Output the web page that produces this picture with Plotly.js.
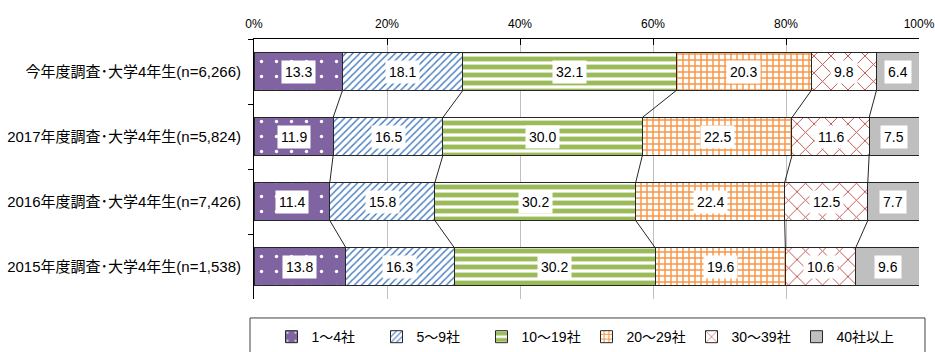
<!DOCTYPE html>
<html><head><meta charset="utf-8">
<script src="https://cdn.plot.ly/plotly-3.0.1.min.js"></script>
<style>html,body{margin:0;padding:0;background:#fff}#chart{width:935px;height:352px}</style>
</head><body><div id="chart"></div>
<script>
const categories = ['今年度調査･大学4年生(n=6,266)', '2017年度調査･大学4年生(n=5,824)', '2016年度調査･大学4年生(n=7,426)', '2015年度調査･大学4年生(n=1,538)'];
const seriesNames = ['1～4社', '5～9社', '10～19社', '20～29社', '30～39社', '40社以上'];
const s1to4 = [13.3, 11.9, 11.4, 13.8];
const s5to9 = [18.1, 16.5, 15.8, 16.3];
const s10to19 = [32.1, 30.0, 30.2, 30.2];
const s20to29 = [20.3, 22.5, 22.4, 19.6];
const s30to39 = [9.8, 11.6, 12.5, 10.6];
const s40plus = [6.4, 7.5, 7.7, 9.6];
const xTicks = [0, 20, 40, 60, 80, 100];
const xTickText = xTicks.map(v => v + '%');

const series = [s1to4, s5to9, s10to19, s20to29, s30to39, s40plus];
const colors = ['#8064A2', '#4F81BD', '#9BBB59', '#F79646', '#C0504D', '#BFBFBF'];
const patterns = [
  {shape: '.', bgcolor: '#8064A2', fgcolor: '#ffffff', size: 15, solidity: 0.04},
  {shape: '/', bgcolor: '#ffffff', fgcolor: '#3F78BE', size: 5, solidity: 0.28},
  {shape: '-', bgcolor: '#ffffff', fgcolor: '#9BBB59', size: 8, solidity: 0.6},
  {shape: '+', bgcolor: '#ffffff', fgcolor: '#F79646', size: 6, solidity: 0.42},
  {shape: 'x', bgcolor: '#ffffff', fgcolor: '#C0504D', size: 12, solidity: 0.15},
  null
];
const BARW = 0.585;
const NUMFONT = 'Liberation Sans, Arial, sans-serif';
const JPFONT = 'Liberation Sans, Arial, "Noto Sans CJK JP", sans-serif';

const traces = series.map((vals, k) => {
  const t = {
    type: 'bar', orientation: 'h', name: seriesNames[k],
    x: vals, y: categories, width: BARW,
    marker: {color: colors[k], line: {color: '#262626', width: 1}},
    hoverinfo: 'skip'
  };
  if (patterns[k]) t.marker.pattern = Object.assign({fillmode: 'replace'}, patterns[k]);
  return t;
});

const annotations = [];
const shapes = [];
const cum = categories.map(() => 0);
const bounds = categories.map(() => []);
series.forEach((vals, k) => {
  vals.forEach((v, i) => {
    annotations.push({
      x: cum[i] + v / 2, y: categories[i], xref: 'x', yref: 'y',
      text: v.toFixed(1), showarrow: false, bgcolor: '#ffffff', borderpad: 3,
      font: {size: 14, color: '#000', family: NUMFONT}
    });
    cum[i] += v;
    bounds[i].push(cum[i]);
  });
});
for (let i = 0; i < categories.length - 1; i++) {
  for (let k = 0; k < series.length - 1; k++) {
    shapes.push({
      type: 'line', xref: 'x', yref: 'y',
      x0: bounds[i][k], y0: i + BARW / 2, x1: bounds[i + 1][k], y1: i + 1 - BARW / 2,
      line: {color: '#262626', width: 1}
    });
  }
}
shapes.push({
  type: 'rect', xref: 'paper', yref: 'paper', x0: -0.006, x1: 1.009, y0: -0.073, y1: -0.4,
  line: {color: '#404040', width: 1}, fillcolor: 'rgba(0,0,0,0)'
});

const layout = {
  width: 935, height: 352,
  margin: {l: 254, r: 16, t: 39, b: 53, autoexpand: false},
  barmode: 'stack', bargap: 0.415,
  paper_bgcolor: '#fff', plot_bgcolor: '#fff',
  font: {family: JPFONT, size: 13, color: '#000'},
  xaxis: {
    side: 'top', range: [0, 100], tickmode: 'array', tickvals: xTicks, ticktext: xTickText,
    ticks: 'inside', ticklen: 6, tickcolor: '#000', showline: true, linecolor: '#000', linewidth: 1,
    showgrid: true, gridcolor: '#C0C0C0', gridwidth: 1, zeroline: false, fixedrange: true,
    ticklabelstandoff: 5, ticklabeloverflow: 'allow',
    tickfont: {size: 12, color: '#000', family: NUMFONT}
  },
  yaxis: {
    type: 'category', autorange: 'reversed', tickson: 'boundaries',
    ticks: 'outside', ticklen: 5, tickcolor: '#000', showline: true, linecolor: '#000', linewidth: 1,
    showgrid: false, zeroline: false, ticklabelstandoff: 9,
    tickfont: {size: 15, color: '#000', family: JPFONT}
  },
  legend: {
    orientation: 'h', x: 0.5, xanchor: 'center', y: -0.085, yanchor: 'top',
    traceorder: 'normal', entrywidth: 60, entrywidthmode: 'pixels', itemwidth: 30,
    font: {size: 14, color: '#000', family: JPFONT},
    bgcolor: 'rgba(0,0,0,0)'
  },
  annotations: annotations,
  shapes: shapes,
  showlegend: true
};
Plotly.newPlot('chart', traces, layout, {displayModeBar: false, staticPlot: true});
</script></body></html>
